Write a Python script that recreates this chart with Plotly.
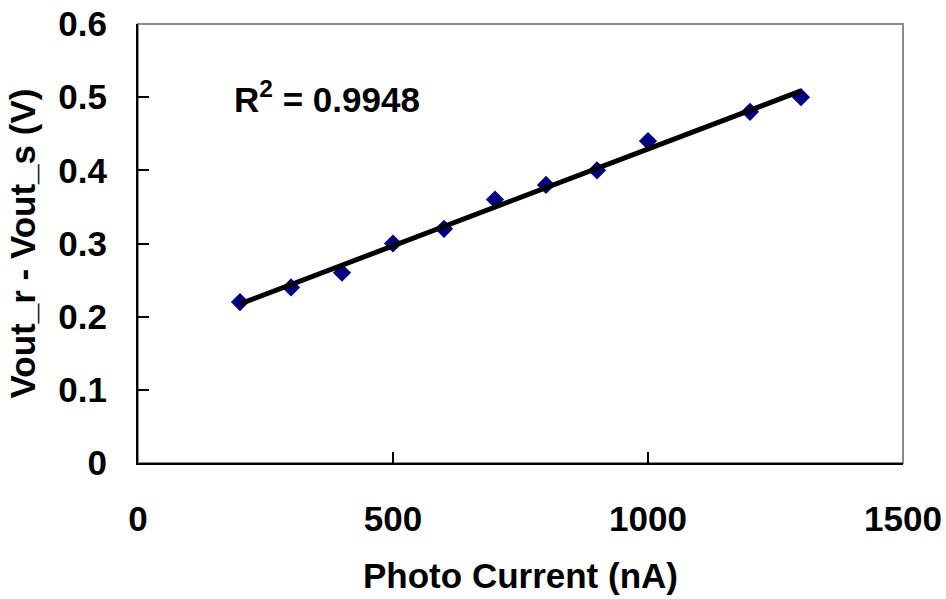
import numpy as np
import plotly.graph_objects as go

# Measured response: photo current (nA) vs. output voltage difference (V)
photo_current = [200, 300, 400, 500, 600, 700, 800, 900, 1000, 1200, 1300]
vout_diff = [0.22, 0.24, 0.26, 0.30, 0.32, 0.36, 0.38, 0.40, 0.44, 0.48, 0.50]
r2_text = "R<sup>2</sup> = 0.9948"

x_ticks = [0, 500, 1000, 1500]
y_ticks = [0, 0.1, 0.2, 0.3, 0.4, 0.5, 0.6]

# Linear trendline over the measured range
slope, intercept = np.polyfit(photo_current, vout_diff, 1)
fit_x = [min(photo_current), max(photo_current)]
fit_y = [slope * v + intercept for v in fit_x]

FONT = "Liberation Sans, Arial, sans-serif"
FS = 35

fig = go.Figure()
fig.add_trace(go.Scatter(
    x=photo_current, y=vout_diff, mode="markers",
    marker=dict(symbol="diamond", size=14, color="#000080"),
    showlegend=False,
))
fig.add_trace(go.Scatter(
    x=fit_x, y=fit_y, mode="lines",
    line=dict(color="black", width=5),
    showlegend=False,
))

fig.update_layout(
    width=946, height=599,
    margin=dict(l=138, r=43, t=24, b=136),
    paper_bgcolor="white", plot_bgcolor="white",
    font=dict(family=FONT, size=FS, color="black"),
    shapes=[dict(type="rect", xref="paper", yref="paper", x0=0, y0=0, x1=1, y1=1,
                 line=dict(color="#8c8c8c", width=2), layer="below")],
    annotations=[dict(x=184, y=0.5, xref="x", yref="y", text=r2_text,
                      showarrow=False, xanchor="left", yanchor="middle",
                      font=dict(family=FONT, size=FS, color="black", weight="bold"))],
)

fig.update_xaxes(
    range=[0, 1500], tickvals=x_ticks, ticktext=[str(v) for v in x_ticks],
    automargin=False,
    showgrid=False, zeroline=False, showline=True, linecolor="black", linewidth=2,
    ticks="inside", ticklen=11, tickwidth=2, tickcolor="black",
    tickfont=dict(family=FONT, size=FS, weight="bold"), ticklabelstandoff=24,
    title=dict(text="Photo Current (nA)", standoff=26,
               font=dict(family=FONT, size=FS, weight="bold")),
)
fig.update_yaxes(
    range=[0, 0.6], tickvals=y_ticks, ticktext=[f"{v:g}" for v in y_ticks],
    automargin=False,
    showgrid=False, zeroline=False, showline=True, linecolor="black", linewidth=2,
    ticks="inside", ticklen=11, tickwidth=2, tickcolor="black",
    tickfont=dict(family=FONT, size=FS, weight="bold"), ticklabelstandoff=22,
    title=dict(text="Vout_r - Vout_s (V)", standoff=12,
               font=dict(family=FONT, size=FS, weight="bold")),
)

fig.write_html("out.html")
